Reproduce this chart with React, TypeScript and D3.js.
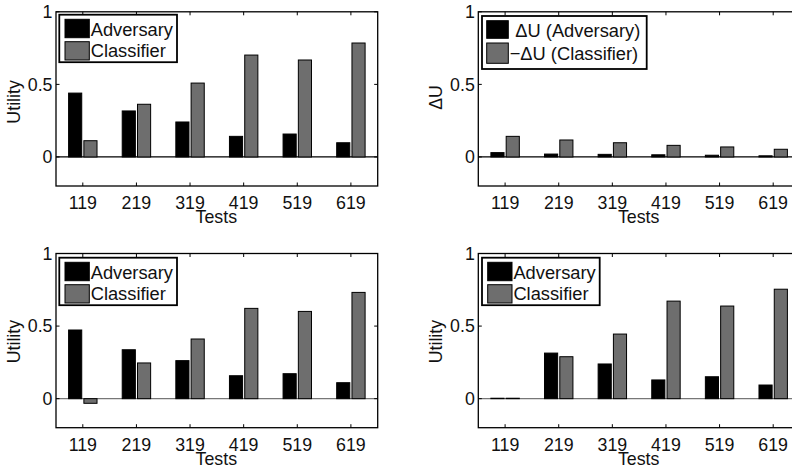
import React from 'react';
import * as d3 from 'd3';

const categories = ['119', '219', '319', '419', '519', '619'];
const p1Adversary = [0.44, 0.317, 0.241, 0.142, 0.158, 0.098];
const p1Classifier = [0.112, 0.363, 0.509, 0.702, 0.668, 0.785];
const p2Adversary = [0.03, 0.02, 0.018, 0.015, 0.012, 0.008];
const p2Classifier = [0.142, 0.117, 0.098, 0.08, 0.069, 0.053];
const p3Adversary = [0.473, 0.337, 0.262, 0.158, 0.172, 0.11];
const p3Classifier = [-0.032, 0.246, 0.411, 0.622, 0.601, 0.732];
const p4Adversary = [0.003, 0.314, 0.239, 0.129, 0.151, 0.094];
const p4Classifier = [0.003, 0.289, 0.445, 0.672, 0.638, 0.754];
const yTicks = [0, 0.5, 1];
const yTickLabels = ['0', '0.5', '1'];
const legendUtility = ['Adversary', 'Classifier'];
const legendDelta = ['\u0394U (Adversary)', '\u2212\u0394U (Classifier)'];

const FONT = '"Liberation Sans", Arial, Helvetica, sans-serif';
const W = 321.7;
const H = 174.2;
const GRAY = '#6e6e6e';

type LegendCfg = {
  x: number; y: number; w: number; h: number;
  sw: number; sh: [number, number]; sy: [number, number];
  tx: [number, number]; ty: [number, number]; sx: number;
};

type PanelProps = {
  left: number; top: number;
  adv: number[]; cls: number[];
  ylabel: string; ylabelDy: number;
  labels: string[]; legend: LegendCfg;
  zeroColor: string;
};

function Panel({ left, top, adv, cls, ylabel, ylabelDy, labels, legend, zeroColor }: PanelProps) {
  const x = d3.scaleBand<string>().domain(categories).range([left, left + W]).padding(0);
  const y = d3.scaleLinear().domain([-0.2, 1]).range([top + H, top]);
  const bw = x.bandwidth();
  const cx = (c: string) => (x(c) as number) + bw / 2;
  const bottom = top + H;
  const right = left + W;
  const tickLen = 3.5;
  return (
    <g>
      <rect x={left} y={top} width={W} height={H} fill="#fff" />
      <line x1={left} x2={right} y1={y(0)} y2={y(0)} stroke={zeroColor} strokeWidth={1.2} />
      {categories.map((c, i) => {
        const c0 = cx(c);
        const a = adv[i];
        const b = cls[i];
        return (
          <g key={c}>
            <rect x={c0 - 0.265 * bw} width={0.245 * bw}
              y={Math.min(y(a), y(0))} height={Math.abs(y(a) - y(0))}
              fill="#000" stroke="#000" strokeWidth={1} />
            <rect x={c0 + 0.02 * bw} width={0.245 * bw}
              y={Math.min(y(b), y(0))} height={Math.abs(y(b) - y(0))}
              fill={GRAY} stroke="#000" strokeWidth={1} />
          </g>
        );
      })}
      {/* box */}
      <rect x={left} y={top} width={W} height={H} fill="none" stroke="#000" strokeWidth={1.3} />
      {/* x ticks */}
      {categories.map((c) => (
        <g key={'xt' + c}>
          <line x1={cx(c)} x2={cx(c)} y1={bottom} y2={bottom - tickLen} stroke="#000" strokeWidth={1} />
          <line x1={cx(c)} x2={cx(c)} y1={top} y2={top + tickLen} stroke="#000" strokeWidth={1} />
          <text x={cx(c)} y={bottom + 23.3} textAnchor="middle" fontFamily={FONT} fontSize={17.8} fill="#111">{c}</text>
        </g>
      ))}
      {/* y ticks */}
      {yTicks.map((t, i) => (
        <g key={'yt' + t}>
          <line x1={left} x2={left + tickLen} y1={y(t)} y2={y(t)} stroke="#000" strokeWidth={1} />
          <line x1={right} x2={right - tickLen} y1={y(t)} y2={y(t)} stroke="#000" strokeWidth={1} />
          <text x={left - 3.5} y={y(t)} dy="0.36em" textAnchor="end" fontFamily={FONT} fontSize={17.8} fill="#111">{yTickLabels[i]}</text>
        </g>
      ))}
      <text x={left + W / 2 - 0.5} y={bottom + 36.8} textAnchor="middle" fontFamily={FONT} fontSize={17.8} fill="#111">Tests</text>
      <text transform={`translate(${left - 36.5},${top + H / 2 + ylabelDy}) rotate(-90)`} textAnchor="middle"
        fontFamily={FONT} fontSize={17.8} fill="#111">{ylabel}</text>
      {/* legend */}
      <rect x={legend.x} y={legend.y} width={legend.w} height={legend.h} fill="#fff" stroke="#000" strokeWidth={1.8} />
      <rect x={legend.x + legend.sx} y={legend.y + legend.sy[0]} width={legend.sw} height={legend.sh[0]} fill="#000" stroke="#000" strokeWidth={1} />
      <rect x={legend.x + legend.sx} y={legend.y + legend.sy[1]} width={legend.sw} height={legend.sh[1]} fill={GRAY} stroke="#000" strokeWidth={1} />
      {labels.map((l, i) => (
        <text key={l} x={legend.x + legend.tx[i]} y={legend.y + legend.ty[i]} fontFamily={FONT} fontSize={18.3} fill="#111">{l}</text>
      ))}
    </g>
  );
}

const legendA = (x: number, y: number): LegendCfg => ({
  x, y, w: 117.7, h: 47.5, sx: 5.7, sw: 24.3, sh: [18.4, 18.3], sy: [4.6, 27], tx: [31.4, 31.4], ty: [21.3, 42.6],
});
const legendB: LegendCfg = {
  x: 482, y: 16, w: 164.7, h: 53, sx: 4.7, sw: 21.6, sh: [17.6, 20.3], sy: [4.7, 27], tx: [33.3, 27.7], ty: [20.9, 43.5],
};

export default function App() {
  return (
    <svg width={792} height={470} style={{ position: 'absolute', left: 0, top: 0, background: '#fff' }}>
      <rect x={0} y={0} width={792} height={470} fill="#fff" />
      <Panel left={56} top={11.8} adv={p1Adversary} cls={p1Classifier} ylabel="Utility" ylabelDy={3}
        labels={legendUtility} legend={legendA(59.3, 14.7)} zeroColor="#000" />
      <Panel left={478.3} top={11.8} adv={p2Adversary} cls={p2Classifier} ylabel={'\u0394U'} ylabelDy={-1.5}
        labels={legendDelta} legend={legendB} zeroColor="#000" />
      <Panel left={56} top={253.5} adv={p3Adversary} cls={p3Classifier} ylabel="Utility" ylabelDy={1}
        labels={legendUtility} legend={legendA(59.3, 257.7)} zeroColor="#777" />
      <Panel left={478.3} top={253.5} adv={p4Adversary} cls={p4Classifier} ylabel="Utility" ylabelDy={1}
        labels={legendUtility} legend={legendA(482, 257.7)} zeroColor="#777" />
    </svg>
  );
}
